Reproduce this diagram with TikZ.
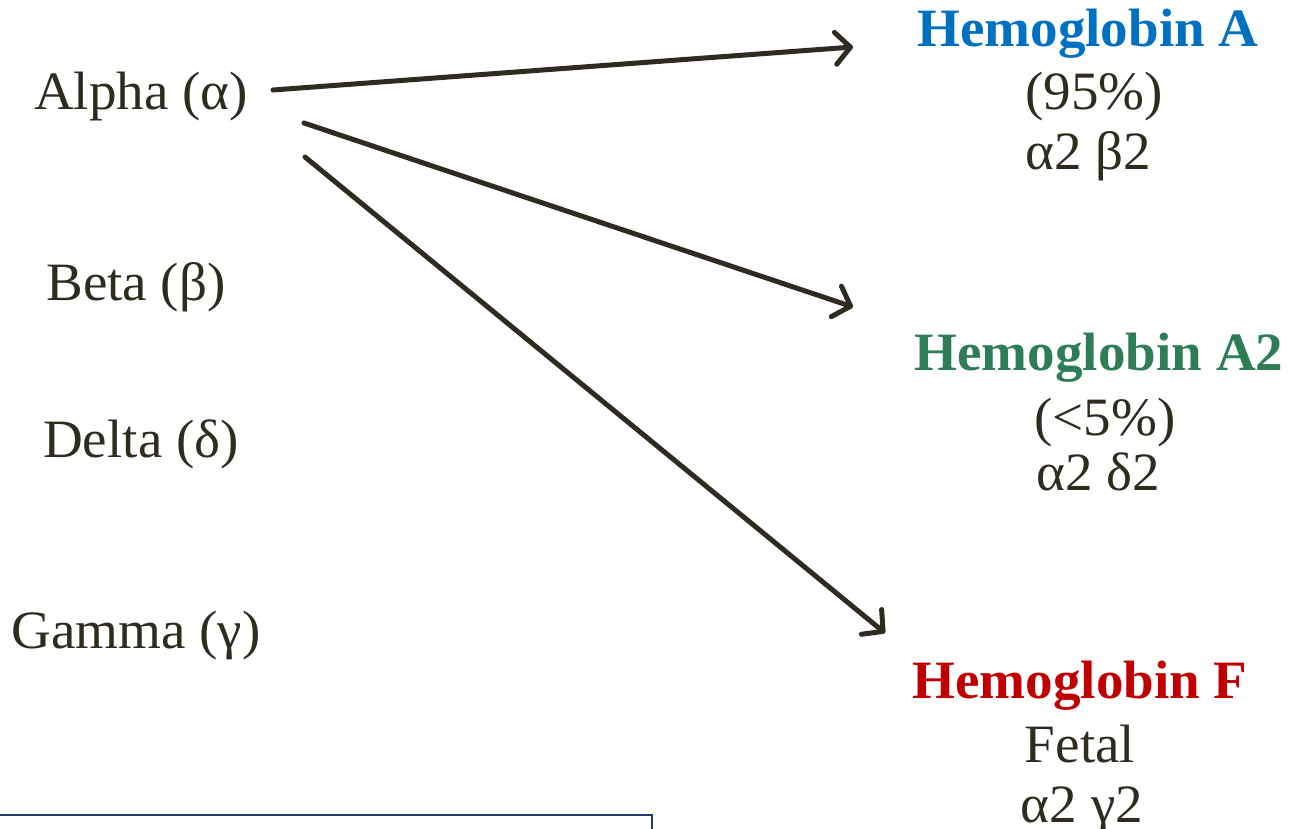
\documentclass[tikz,border=0pt]{standalone}
\usepackage{fontspec}
\setmainfont[FakeStretch=1.02]{Liberation Serif}
\usetikzlibrary{arrows.meta}
\definecolor{ink}{HTML}{2F2B21}
\definecolor{hbblue}{HTML}{0070C0}
\definecolor{hbgreen}{HTML}{2E7D57}
\definecolor{hbred}{HTML}{C00000}
\definecolor{frame}{HTML}{1F3A6E}
\begin{document}
\begin{tikzpicture}[x=1pt,y=-1pt,
  chain/.style={anchor=base,inner sep=0pt,text=ink,font=\fontsize{54}{60}\selectfont},
  title/.style={anchor=base,inner sep=0pt,font=\fontsize{54}{60}\selectfont\bfseries},
  link/.style={draw=ink,line width=5pt,line cap=round,
    -{Straight Barb[length=15pt,width=32pt,line cap=round,line join=round]}}]
  \useasboundingbox (0,0) rectangle (1289,829);
  \clip (0,0) rectangle (1289,829);

  % globin chains
  \node[chain] (alpha) at (141,110) {Alpha (α)};
  \node[chain] (beta)  at (136,300) {Beta (β)};
  \node[chain] (delta) at (141,457) {Delta (δ)};
  \node[chain] (gamma) at (136,648) {Gamma (γ)};

  % haemoglobin types
  \node[title,text=hbblue]  (hbA)   at (1088,47)  {Hemoglobin A};
  \node[chain]              (hbAp)  at (1094,110) {(95\%)};
  \node[chain]              (hbAc)  at (1088,170) {α2 β2};

  \node[title,text=hbgreen] (hbA2)  at (1099,370) {Hemoglobin A2};
  \node[chain]              (hbA2p) at (1105,435) {(<5\%)};
  \node[chain]              (hbA2c) at (1098,490) {α2 δ2};

  \node[title,text=hbred]   (hbF)   at (1080,698) {Hemoglobin F};
  \node[chain]              (hbFn)  at (1080,762) {Fetal};
  \node[chain]              (hbFc)  at (1082,822) {α2 γ2};

  % arrow ends
  \coordinate (s1) at (273,90);
  \coordinate (s2) at (304,123);
  \coordinate (s3) at (305,157);
  \coordinate (t1) at (853,47);
  \coordinate (t2) at (853,307);
  \coordinate (t3) at (885,633);
  \draw[link] (s1) -- (t1);
  \draw[link] (s2) -- (t2);
  \draw[link] (s3) -- (t3);

  % framed panel at the bottom
  \draw[frame,line width=2pt] (-5,815) -- (652,815) -- (652,840);
\end{tikzpicture}
\end{document}
